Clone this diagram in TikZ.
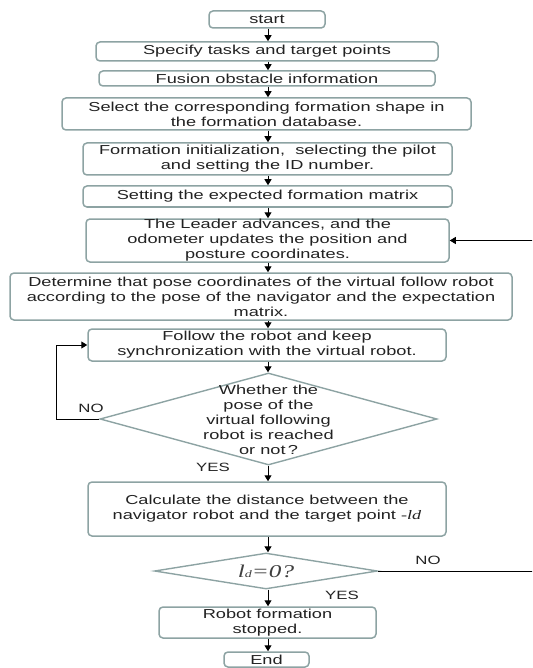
\documentclass[tikz,border=0pt]{standalone}
\usepackage{fontspec}
\setmainfont[FakeStretch=1.4]{Liberation Sans}
\newfontfamily\serifst[FakeStretch=1.4]{Liberation Serif}
\usetikzlibrary{arrows.meta,shapes.geometric}
\definecolor{bcol}{HTML}{8DA3A3}
\definecolor{tcol}{HTML}{222222}
\newcommand\mainsz{\fontsize{13}{15}\selectfont}
\newcommand\lblsz{\fontsize{12}{14}\selectfont}
\tikzset{
  box/.style={draw=bcol, line width=1.5pt, rounded corners=4pt, inner sep=0pt,
              text=tcol, align=center, font=\mainsz},
  dia/.style={draw=bcol, line width=1.4pt, diamond, inner sep=0pt, aspect=1},
  dtext/.style={text=tcol, align=center, font=\mainsz, inner sep=0pt},
  arr/.style={draw=black, line width=1pt, -{Triangle[width=7pt,length=6pt]}},
  lbl/.style={text=tcol, font=\lblsz, inner sep=0pt},
}
\begin{document}
\begin{tikzpicture}[x=1pt,y=-1pt]
\useasboundingbox (0,0) rectangle (532,668);
\clip (0,0) rectangle (532,668);
\node[box, minimum width=116pt, minimum height=17pt] (start) at (267,19.5) {start};
\node[box, minimum width=342pt, minimum height=19pt] (spec) at (267,51.5) {Specify tasks and target points};
\node[box, minimum width=336pt, minimum height=15pt] (fus) at (267,78.5) {Fusion obstacle information};
\node[box, minimum width=409pt, minimum height=32pt] (sel) at (266.5,114) {Select the corresponding formation shape in\\the formation database.};
\node[box, minimum width=369pt, minimum height=32pt] (init) at (267.5,159) {Formation initialization,\ \ selecting the pilot\\and setting the ID number.};
\node[box, minimum width=369pt, minimum height=21pt] (setm) at (267.5,196.5) {Setting the expected formation matrix};
\node[box, minimum width=363pt, minimum height=43pt] (lead) at (267.5,240.5) {The Leader advances, and the\\odometer updates the position and\\posture coordinates.};
\node[box, minimum width=502pt, minimum height=47pt] (det) at (261,296.5) {Determine that pose coordinates of the virtual follow robot\\according to the pose of the navigator and the expectation\\matrix.};
\node[box, minimum width=358pt, minimum height=32pt] (fol) at (267,345) {Follow the robot and keep\\synchronization with the virtual robot.};
\node[dia, minimum width=337pt, minimum height=92pt] (d1) at (268.5,419) {};
\node[dtext] (d1t) at (268.5,420) {Whether the\\pose of the\\virtual following\\robot is reached\\or not\,?};
\node[box, minimum width=358pt, minimum height=54pt] (calc) at (267,509) {Calculate the distance between the\\navigator robot and the target point {\serifst\itshape -ld}};
\node[dia, minimum width=223pt, minimum height=36pt] (d2) at (266,571) {};
\node[dtext, text=black!75] (d2t) at (266,571) {\serifst\fontsize{18}{20}\selectfont\itshape l{\fontsize{10}{10}\selectfont d}=0?};
\node[box, minimum width=217pt, minimum height=31pt] (stop) at (267.5,622.5) {Robot formation\\stopped.};
\node[box, minimum width=85pt, minimum height=15pt] (fin) at (266.5,659.5) {End};
% labels
\node[lbl] (no1) at (91,408) {NO};
\node[lbl] (yes1) at (213,467) {YES};
\node[lbl] (no2) at (428,560) {NO};
\node[lbl] (yes2) at (342,595) {YES};
% connectors
\draw[arr] (start.south -| 268,0) -- (268,0 |- spec.north);
\draw[arr] (spec.south -| 268,0) -- (268,0 |- fus.north);
\draw[arr] (fus.south -| 268,0) -- (268,0 |- sel.north);
\draw[arr] (sel.south -| 268,0) -- (268,0 |- init.north);
\draw[arr] (init.south -| 268,0) -- (268,0 |- setm.north);
\draw[arr] (setm.south -| 268,0) -- (268,0 |- lead.north);
\draw[arr] (lead.south -| 268,0) -- (268,0 |- det.north);
\draw[arr] (det.south -| 268,0) -- (268,0 |- fol.north);
\draw[arr] (fol.south -| 268,0) -- (268,0 |- d1.north);
\draw[arr] (d1.south -| 268,0) -- (268,0 |- calc.north);
\draw[arr] (calc.south -| 268,0) -- (268,0 |- d2.north);
\draw[arr] (d2.south -| 268,0) -- (268,0 |- stop.north);
\draw[arr] (stop.south -| 268,0) -- (268,0 |- fin.north);
\coordinate (lp) at (56,419);
\draw[arr] (d1.west) -- (lp) |- (fol.west);
\coordinate (rp) at (545,571);
\draw[arr] (d2.east) -- (rp) |- (lead.east);
\end{tikzpicture}
\end{document}
